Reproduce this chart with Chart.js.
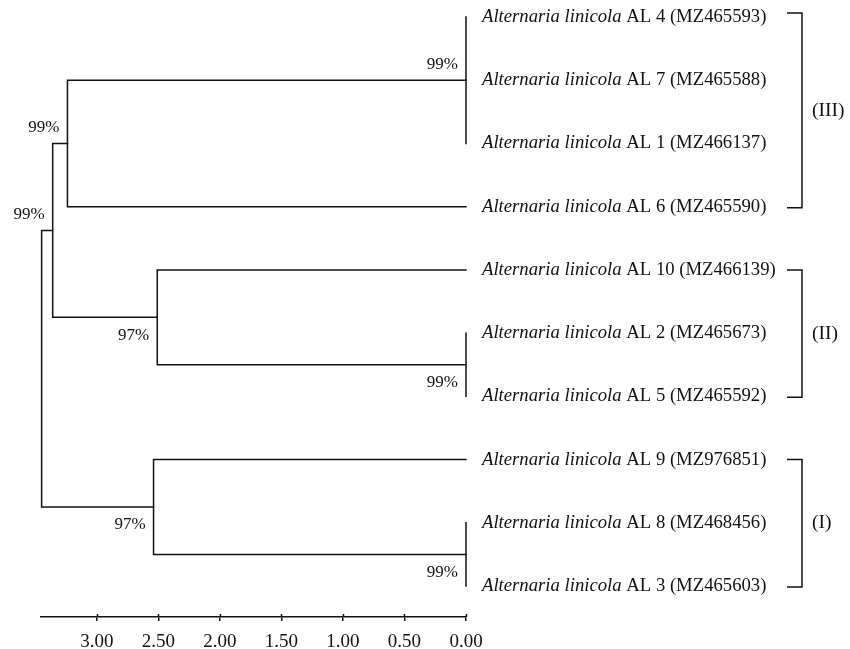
<!DOCTYPE html>
<html>
<head>
<meta charset="utf-8">
<script src="https://cdn.jsdelivr.net/npm/chart.js@4.4.1/dist/chart.umd.min.js"></script>
<style>
  html, body { margin: 0; padding: 0; background: #fff; }
  #wrap { width: 850px; height: 649px; position: relative; }
</style>
</head>
<body>
<div id="wrap"><canvas id="c" width="850" height="649"></canvas></div>
<script>
// ---- Data ----
const species = 'Alternaria linicola';
const leafIds = ['AL 4', 'AL 7', 'AL 1', 'AL 6', 'AL 10', 'AL 2', 'AL 5', 'AL 9', 'AL 8', 'AL 3'];
const accessions = ['MZ465593', 'MZ465588', 'MZ466137', 'MZ465590', 'MZ466139', 'MZ465673', 'MZ465592', 'MZ976851', 'MZ468456', 'MZ465603'];

const nodeNames = ['n1', 'n2', 'n3', 'n4', 'n5', 'n6', 'n7', 'root'];
const nodeDist = [0.00, 3.24, 0.00, 2.51, 3.36, 0.00, 2.54, 3.45];
const nodeChildren = [
  ['AL 4', 'AL 7', 'AL 1'],
  ['n1', 'AL 6'],
  ['AL 2', 'AL 5'],
  ['AL 10', 'n3'],
  ['n2', 'n4'],
  ['AL 8', 'AL 3'],
  ['AL 9', 'n6'],
  ['n5', 'n7']
];
const nodeSupport = ['99%', '99%', '99%', '97%', '99%', '99%', '97%', ''];
const supportSide = ['above', 'above', 'below', 'below', 'above', 'below', 'below', ''];

const cladeLabels = ['(III)', '(II)', '(I)'];
const cladeFirst = ['AL 4', 'AL 10', 'AL 9'];
const cladeLast = ['AL 6', 'AL 5', 'AL 3'];

const tickValues = [0.00, 0.50, 1.00, 1.50, 2.00, 2.50, 3.00];
const axisMax = 3.455;

// ---- Build tree geometry (in data units) ----
const posY = {}, posX = {};
leafIds.forEach((id, i) => { posY[id] = i; posX[id] = 0; });
nodeNames.forEach((n, i) => {
  const ch = nodeChildren[i];
  posY[n] = (posY[ch[0]] + posY[ch[ch.length - 1]]) / 2;
  posX[n] = nodeDist[i];
});

const lineColor = '#111111';
const datasets = [];
nodeNames.forEach((n, i) => {
  const ch = nodeChildren[i];
  const first = ch[0], last = ch[ch.length - 1];
  datasets.push({
    data: [
      { x: posX[first], y: posY[first] },
      { x: posX[n], y: posY[first] },
      { x: posX[n], y: posY[last] },
      { x: posX[last], y: posY[last] }
    ]
  });
  ch.slice(1, -1).forEach(c => {
    datasets.push({ data: [{ x: posX[c], y: posY[c] }, { x: posX[n], y: posY[c] }] });
  });
});
datasets.forEach(d => Object.assign(d, {
  showLine: true, borderColor: lineColor, borderWidth: 1.5, pointRadius: 0,
  tension: 0, fill: false, clip: false, borderJoinStyle: 'miter', borderCapStyle: 'square'
}));

const serif = "'Liberation Serif', 'Times New Roman', serif";

const treeText = {
  id: 'treeText',
  afterDraw(chart) {
    const ctx = chart.ctx;
    const xs = chart.scales.x, ys = chart.scales.y;
    ctx.save();
    ctx.fillStyle = '#111111';
    ctx.strokeStyle = lineColor;
    ctx.lineWidth = 1.5;
    // upper halves of the axis ticks
    const ay = chart.chartArea.bottom;
    tickValues.forEach(v => {
      const px = Math.round(xs.getPixelForValue(v)) + 0.5;
      ctx.beginPath(); ctx.moveTo(px, ay - 3); ctx.lineTo(px, ay); ctx.stroke();
    });
    // leaf labels
    ctx.textBaseline = 'middle';
    ctx.textAlign = 'left';
    leafIds.forEach((id, i) => {
      const px = xs.getPixelForValue(0) + 16;
      const py = ys.getPixelForValue(i);
      ctx.font = 'italic 18.7px ' + serif;
      ctx.fillText(species, px, py);
      const w = ctx.measureText(species + ' ').width;
      ctx.font = '18.7px ' + serif;
      ctx.fillText(id + ' (' + accessions[i] + ')', px + w, py);
    });
    // bootstrap values
    ctx.font = '17px ' + serif;
    ctx.textAlign = 'right';
    nodeNames.forEach((n, i) => {
      if (!nodeSupport[i]) return;
      const px = xs.getPixelForValue(posX[n]) - 8;
      const py = ys.getPixelForValue(posY[n]) + (supportSide[i] === 'above' ? -16 : 18);
      ctx.fillText(nodeSupport[i], px, py);
    });
    // clade brackets
    ctx.font = '19.5px ' + serif;
    const bx = 802;
    cladeLabels.forEach((lab, k) => {
      const y1 = ys.getPixelForValue(posY[cladeFirst[k]]) - (k === 0 ? 4 : 0);
      const y2 = ys.getPixelForValue(posY[cladeLast[k]]) + 1;
      ctx.beginPath();
      ctx.moveTo(bx - 15, y1); ctx.lineTo(bx, y1); ctx.lineTo(bx, y2); ctx.lineTo(bx - 15, y2);
      ctx.stroke();
      ctx.textAlign = 'left';
      ctx.fillText(lab, bx + 10, (y1 + y2) / 2);
    });
    ctx.restore();
  }
};

new Chart(document.getElementById('c'), {
  type: 'scatter',
  data: { datasets },
  options: {
    responsive: false,
    animation: false,
    devicePixelRatio: 1,
    layout: { padding: { left: 41, right: 384, top: 0, bottom: 0 } },
    plugins: { legend: { display: false }, tooltip: { enabled: false } },
    scales: {
      x: {
        type: 'linear', reverse: true, min: 0, max: axisMax,
        afterBuildTicks: (scale) => { scale.ticks = tickValues.map(v => ({ value: v })); },
        afterFit: (scale) => { scale.height = 32; },
        grid: { display: true, drawOnChartArea: false, drawTicks: true, tickLength: 4, color: lineColor, lineWidth: 1.5 },
        border: { display: true, color: lineColor, width: 1.6 },
        ticks: {
          padding: 10, color: '#111111', maxRotation: 0, autoSkip: false,
          font: { family: serif, size: 19 },
          callback: (v) => Number(v).toFixed(2)
        }
      },
      y: {
        type: 'linear', display: false, reverse: true, min: -0.27, max: 9.49
      }
    }
  },
  plugins: [treeText]
});
</script>
</body>
</html>
